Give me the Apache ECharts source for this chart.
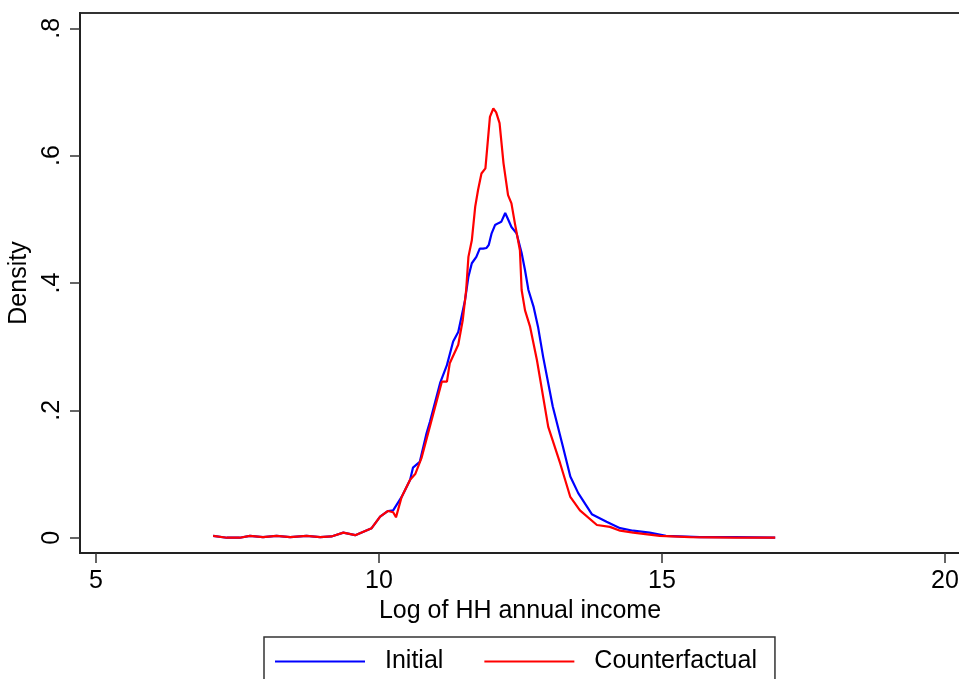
<!DOCTYPE html>
<html>
<head>
<meta charset="utf-8">
<script src="https://cdn.jsdelivr.net/npm/echarts@6/dist/echarts.min.js"></script>
<style>
html,body{margin:0;padding:0;background:#fff;}
#chart{width:959px;height:679px;}
</style>
</head>
<body>
<div id="chart"></div>
<script>
// ---- data ----
var initialX = [7.07,7.31,7.54,7.72,7.95,8.19,8.43,8.72,8.96,9.16,9.37,9.58,9.87,10.02,10.16,10.25,10.40,10.55,10.60,10.72,10.84,10.90,11.08,11.20,11.31,11.40,11.52,11.58,11.64,11.72,11.78,11.84,11.90,11.94,11.99,12.05,12.11,12.16,12.23,12.28,12.34,12.43,12.52,12.58,12.64,12.73,12.81,12.90,13.07,13.25,13.38,13.52,13.76,14.02,14.26,14.49,14.78,15.07,15.67,16.3,17.0];
var initialY = [0.003,0.000,0.000,0.003,0.001,0.003,0.001,0.003,0.001,0.002,0.008,0.004,0.015,0.033,0.042,0.043,0.064,0.091,0.110,0.119,0.164,0.182,0.243,0.271,0.308,0.323,0.373,0.410,0.431,0.441,0.454,0.454,0.455,0.460,0.478,0.491,0.494,0.496,0.510,0.500,0.488,0.478,0.447,0.420,0.389,0.363,0.331,0.284,0.206,0.143,0.096,0.070,0.037,0.025,0.015,0.011,0.008,0.003,0.001,0.001,0.000];
var counterX = [7.07,7.31,7.54,7.72,7.95,8.19,8.43,8.72,8.96,9.16,9.37,9.58,9.87,10.02,10.16,10.25,10.30,10.40,10.55,10.64,10.75,10.93,11.11,11.20,11.25,11.40,11.48,11.54,11.58,11.64,11.70,11.75,11.81,11.88,11.96,12.02,12.07,12.13,12.20,12.28,12.34,12.40,12.49,12.52,12.58,12.67,12.79,12.99,13.20,13.38,13.55,13.85,14.08,14.26,14.49,14.96,15.5,16.3,17.0];
var counterY = [0.003,0.000,0.000,0.003,0.001,0.003,0.001,0.003,0.001,0.002,0.008,0.004,0.015,0.033,0.042,0.040,0.032,0.064,0.091,0.100,0.125,0.185,0.245,0.245,0.274,0.303,0.342,0.389,0.441,0.467,0.520,0.546,0.572,0.580,0.661,0.674,0.668,0.651,0.588,0.538,0.525,0.494,0.451,0.389,0.357,0.331,0.279,0.174,0.117,0.064,0.043,0.020,0.017,0.011,0.008,0.003,0.001,0.000,0.000];
var xTicks = [5,10,15,20];
var xTickLabels = ['5','10','15','20'];
var yTicks = [0,0.2,0.4,0.6,0.8];
var yTickLabels = ['0','.2','.4','.6','.8'];
var seriesNames = ['Initial','Counterfactual'];

function zip(xs, ys){ return xs.map(function(x,i){ return [x, ys[i]]; }); }

var FONT = '"Liberation Sans", Arial, Helvetica, sans-serif';
var chart = echarts.init(document.getElementById('chart'), null, {renderer:'canvas'});
chart.setOption({
  animation:false,
  backgroundColor:'#ffffff',
  textStyle:{fontFamily:FONT},
  grid:{left:80, right:-1, top:13, bottom:126, show:true, borderColor:'#333', borderWidth:2, backgroundColor:'transparent', outerBoundsMode:'none'},
  legend:{
    data:seriesNames,
    left:264, top:637,
    orient:'horizontal',
    icon:'rect', itemWidth:90, itemHeight:2,
    itemGap:41,
    padding:[12,18,40,11],
    borderColor:'#333', borderWidth:1.5,
    textStyle:{fontSize:25, color:'#000', fontFamily:FONT, padding:[0,0,0,15]}
  },
  xAxis:{
    type:'value', min:4.7173, max:20.265,
    name:'Log of HH annual income', nameLocation:'middle', nameGap:42,
    nameTextStyle:{fontSize:25, color:'#000', fontFamily:FONT},
    axisLine:{show:true, onZero:false, lineStyle:{color:'#222', width:2}},
    axisTick:{show:true, length:10, customValues:xTicks, lineStyle:{color:'#333', width:1.5}},
    axisLabel:{show:true, customValues:xTicks, margin:16, fontSize:25, color:'#000', fontFamily:FONT,
      formatter:function(v){ var i=xTicks.indexOf(v); return i>=0?xTickLabels[i]:''; }},
    splitLine:{show:false}
  },
  yAxis:{
    type:'value', min:-0.024, max:0.824,
    name:'Density', nameLocation:'middle', nameGap:40, nameRotate:90,
    nameTextStyle:{fontSize:25, color:'#000', fontFamily:FONT},
    axisLine:{show:true, onZero:false, lineStyle:{color:'#222', width:2}},
    axisTick:{show:true, length:10, customValues:yTicks, lineStyle:{color:'#333', width:1.5}},
    axisLabel:{show:true, customValues:yTicks, margin:15, rotate:90, fontSize:25, color:'#000', fontFamily:FONT,
      formatter:function(v){ for(var i=0;i<yTicks.length;i++){ if(Math.abs(yTicks[i]-v)<1e-9) return yTickLabels[i]; } return ''; }},
    splitLine:{show:false}
  },
  series:[
    {name:seriesNames[0], type:'line', data:zip(initialX, initialY), symbol:'none', smooth:false,
     lineStyle:{color:'#0000ff', width:2.2}, itemStyle:{color:'#0000ff'}},
    {name:seriesNames[1], type:'line', data:zip(counterX, counterY), symbol:'none', smooth:false,
     lineStyle:{color:'#ff0000', width:2.2}, itemStyle:{color:'#ff0000'}}
  ]
});
</script>
</body>
</html>
